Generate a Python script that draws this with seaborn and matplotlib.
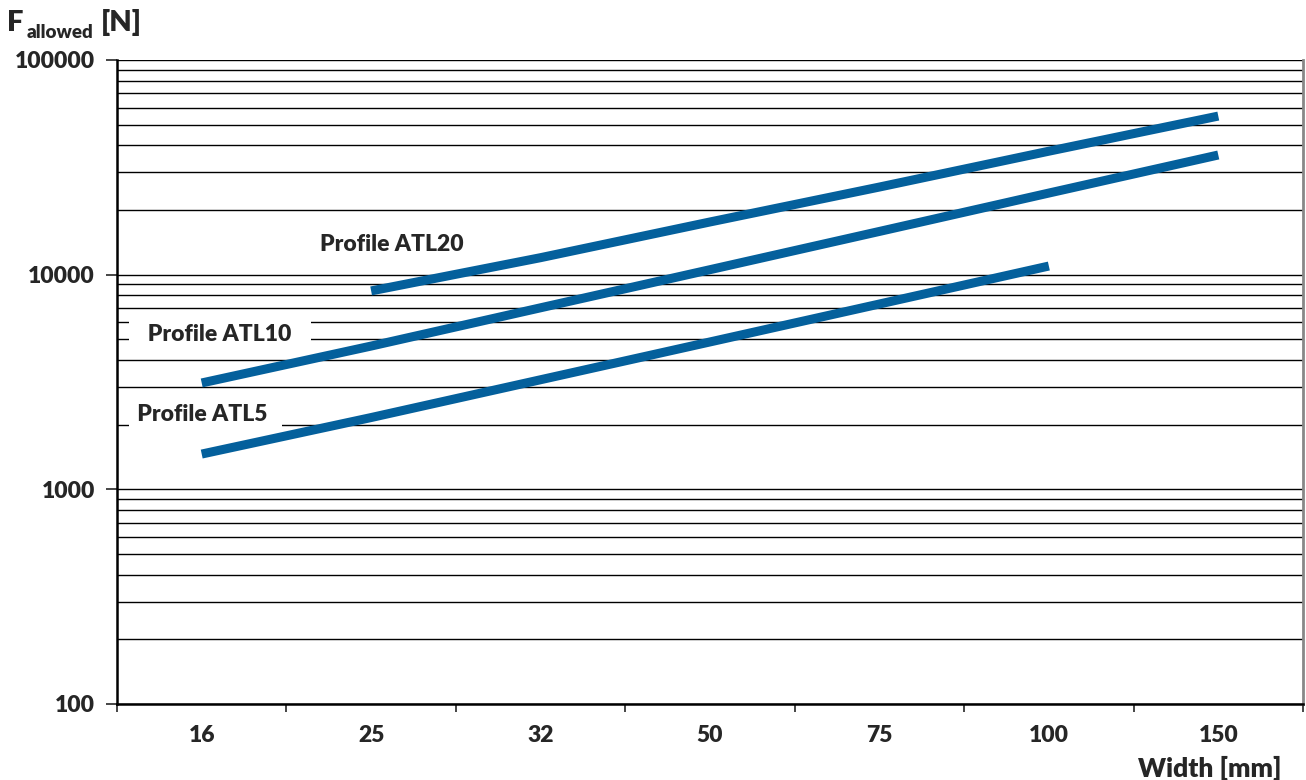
import numpy as np
import pandas as pd
import matplotlib
matplotlib.use('Agg')
import matplotlib.pyplot as plt
import seaborn as sns
from matplotlib.ticker import FixedLocator, LogLocator, NullFormatter

widths = ['16', '25', '32', '50', '75', '100', '150']
atl5_widths = ['16', '25', '32', '50', '75', '100']
atl5_force = [1460, 2160, 3240, 4860, 7300, 10970]
atl10_widths = ['16', '25', '32', '50', '75', '100', '150']
atl10_force = [3130, 4650, 7010, 10550, 15900, 24000, 36100]
atl20_widths = ['25', '32', '50', '75', '100', '150']
atl20_force = [8400, 12000, 17600, 25600, 37600, 54800]

sns.set_style('white')
plt.rcParams['font.family'] = ['Lato', 'DejaVu Sans']
plt.rcParams['font.weight'] = 'heavy'

blue = '#04609c'
pos = {w: i for i, w in enumerate(widths)}

df = pd.concat([
    pd.DataFrame({'width': atl5_widths, 'force': atl5_force, 'profile': 'ATL5'}),
    pd.DataFrame({'width': atl10_widths, 'force': atl10_force, 'profile': 'ATL10'}),
    pd.DataFrame({'width': atl20_widths, 'force': atl20_force, 'profile': 'ATL20'}),
])
df['x'] = df['width'].map(pos)

fig = plt.figure(figsize=(13.06, 7.8), dpi=100)
ax = fig.add_axes([117 / 1306, 76 / 780, 1186 / 1306, 644 / 780])

sns.lineplot(data=df, x='x', y='force', hue='profile', palette=[blue] * 3,
             linewidth=6.5, legend=False, ax=ax, zorder=3)
for l in ax.lines:
    l.set_solid_capstyle('butt')

ax.set_yscale('log')
ax.set_ylim(100, 100000)
ax.set_xlim(-0.5, len(widths) - 0.5)

ax.yaxis.set_major_locator(FixedLocator([100, 1000, 10000, 100000]))
ax.yaxis.set_minor_locator(LogLocator(base=10, subs=np.arange(2, 10)))
ax.yaxis.set_minor_formatter(NullFormatter())
ax.set_yticklabels(['100', '1000', '10000', '100000'])
ax.grid(True, which='both', axis='y', color='black', linewidth=1.0, zorder=1)

ax.set_xticks(range(len(widths)))
ax.set_xticklabels(widths)
ax.xaxis.set_minor_locator(FixedLocator(np.arange(-0.5, len(widths), 1.0)))
ax.tick_params(axis='x', which='major', length=0, pad=15, labelsize=16.5)
ax.tick_params(axis='x', which='minor', length=6, width=1.2, direction='out', bottom=True)
ax.tick_params(axis='y', which='major', length=8, width=1.2, direction='out', left=True, labelsize=16.5, pad=8)
ax.tick_params(axis='y', which='minor', length=0)
for t in ax.get_xticklabels() + ax.get_yticklabels():
    t.set_fontweight('heavy')

for side in ['left', 'bottom']:
    ax.spines[side].set_color('black')
    ax.spines[side].set_linewidth(1.8)
ax.spines['right'].set_color('#888888')
ax.spines['right'].set_linewidth(2)
ax.spines['top'].set_visible(False)
ax.set_xlabel('')
ax.set_ylabel('')

box = dict(facecolor='white', edgecolor='none', boxstyle='square,pad=0.15')
ax.text(0.70, 13750, 'Profile ATL20', fontsize=16.5, fontweight='heavy', ha='left', va='center', zorder=4)
ax.text(-0.41, 5290, '   Profile ATL10   ', fontsize=16.5, fontweight='heavy', ha='left', va='center',
        bbox=box, zorder=4)
ax.text(-0.41, 2221, ' Profile ATL5  ', fontsize=16.5, fontweight='heavy', ha='left', va='center',
        bbox=box, zorder=4)

fig.text(1281 / 1306, 1 - 768 / 780, 'Width [mm]', fontsize=19, fontweight='heavy', ha='right', va='center')
fig.text(7 / 1306, 1 - 23 / 780, 'F', fontsize=21, fontweight='heavy', ha='left', va='center')
fig.text(27 / 1306, 1 - 32 / 780, 'allowed', fontsize=13.5, fontweight='heavy', ha='left', va='center')
fig.text(101 / 1306, 1 - 23 / 780, '[N]', fontsize=21, fontweight='heavy', ha='left', va='center')

fig.savefig('out.png', dpi=100)
